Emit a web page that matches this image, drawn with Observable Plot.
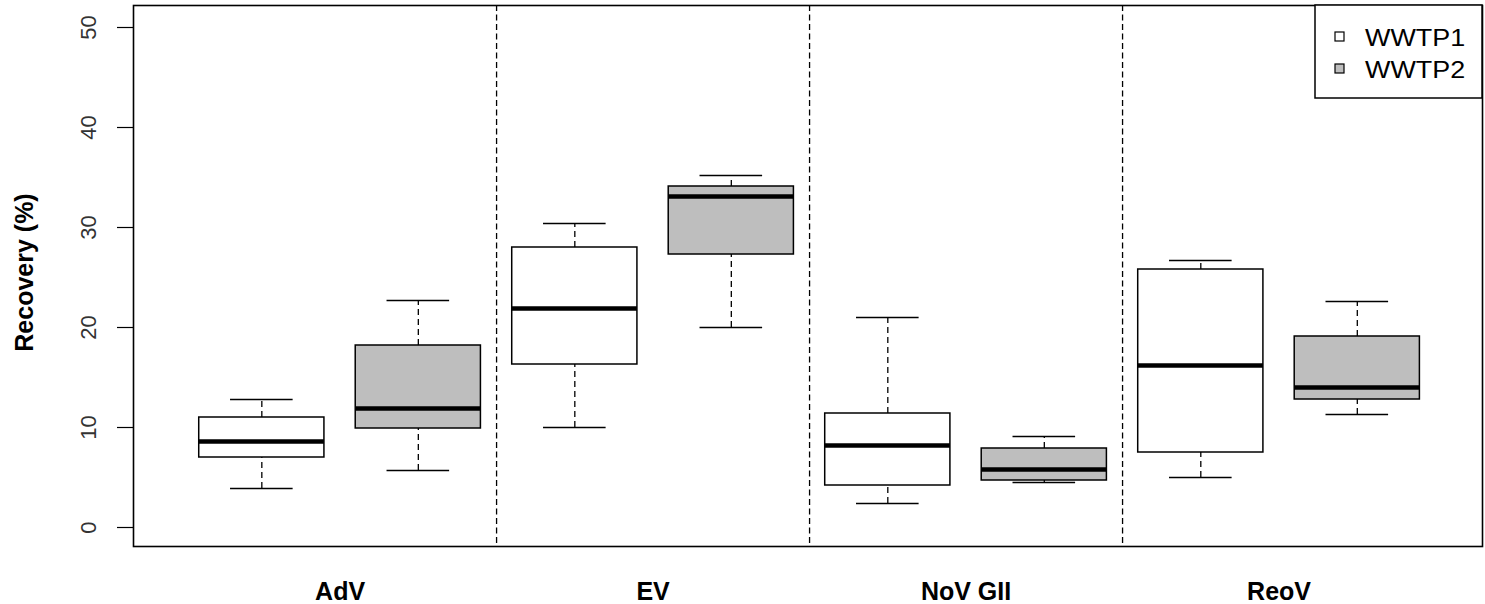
<!DOCTYPE html>
<html>
<head>
<meta charset="utf-8">
<script src="https://cdn.jsdelivr.net/npm/d3@7"></script>
<script src="https://cdn.jsdelivr.net/npm/@observablehq/plot@0.6"></script>
<style>
  html, body { margin: 0; padding: 0; background: #fff; }
  #chart svg { display: block; }
</style>
</head>
<body>
<div id="chart"></div>
<script>
// ---- data ----
const categories = ["AdV", "EV", "NoV GII", "ReoV"];
const plants = ["WWTP1", "WWTP2"];
const plantFills = ["#ffffff", "#bebebe"];
const yTicks = [0, 10, 20, 30, 40, 50];

const wwtp1Low    = [3.9, 10.0, 2.4, 5.0];
const wwtp1Q1     = [7.0, 16.3, 4.2, 7.5];
const wwtp1Median = [8.6, 21.9, 8.2, 16.2];
const wwtp1Q3     = [11.0, 28.0, 11.4, 25.8];
const wwtp1High   = [12.8, 30.4, 21.0, 26.7];

const wwtp2Low    = [5.7, 20.0, 4.5, 11.3];
const wwtp2Q1     = [9.9, 27.3, 4.7, 12.8];
const wwtp2Median = [11.9, 33.1, 5.8, 14.0];
const wwtp2Q3     = [18.2, 34.1, 7.9, 19.1];
const wwtp2High   = [22.7, 35.2, 9.1, 22.6];

// ---- table built from the arrays ----
const series = [
  {low: wwtp1Low, q1: wwtp1Q1, med: wwtp1Median, q3: wwtp1Q3, high: wwtp1High},
  {low: wwtp2Low, q1: wwtp2Q1, med: wwtp2Median, q3: wwtp2Q3, high: wwtp2High}
];
const rows = [];
categories.forEach((cat, i) => {
  plants.forEach((plant, j) => {
    const s = series[j];
    rows.push({cat, plant, pos: i * plants.length + j + 1,
      low: s.low[i], q1: s.q1[i], med: s.med[i], q3: s.q3[i], high: s.high[i]});
  });
});
const groupCenters = categories.map((c, i) => i * plants.length + (plants.length + 1) / 2);
const dividers = categories.slice(1).map((c, i) => (i + 1) * plants.length + 0.5);

const halfBox = 0.4, halfCap = 0.2;
const font = "'Liberation Sans', Arial, Helvetica, sans-serif";

const chart = Plot.plot({
  width: 1485,
  height: 604,
  marginLeft: 133,
  marginRight: 3,
  marginTop: 5,
  marginBottom: 58,
  style: {fontFamily: font, background: "#fff", color: "#000"},
  x: {type: "linear", domain: [0.18, 8.8]},
  y: {domain: [-1.9, 52.2]},
  color: {domain: plants, range: plantFills},
  marks: [
    Plot.ruleX(dividers, {stroke: "#000", strokeWidth: 1.3, strokeDasharray: "6,3.5"}),
    // whiskers
    Plot.ruleX(rows, {x: "pos", y1: "q3", y2: "high", stroke: "#000", strokeWidth: 1.3, strokeDasharray: "6,4"}),
    Plot.ruleX(rows, {x: "pos", y1: "low", y2: "q1", stroke: "#000", strokeWidth: 1.3, strokeDasharray: "6,4"}),
    // caps
    Plot.ruleY(rows, {y: "high", x1: d => d.pos - halfCap, x2: d => d.pos + halfCap, stroke: "#000", strokeWidth: 1.5}),
    Plot.ruleY(rows, {y: "low", x1: d => d.pos - halfCap, x2: d => d.pos + halfCap, stroke: "#000", strokeWidth: 1.5}),
    // boxes
    Plot.rect(rows, {x1: d => d.pos - halfBox, x2: d => d.pos + halfBox, y1: "q1", y2: "q3",
      fill: "plant", stroke: "#000", strokeWidth: 1.5}),
    // medians
    Plot.ruleY(rows, {y: "med", x1: d => d.pos - halfBox, x2: d => d.pos + halfBox, stroke: "#000", strokeWidth: 4.3}),
    Plot.frame({stroke: "#000", strokeWidth: 1.6}),
    // y ticks (marks only) and rotated tick labels
    Plot.axisY({ticks: yTicks, tickSize: 16, tickFormat: () => "", label: null, stroke: "#000", strokeWidth: 1.2}),
    Plot.text(yTicks, {y: d => d, text: d => String(d), frameAnchor: "left", rotate: -90,
      textAnchor: "middle", lineAnchor: "bottom", dx: -38, fontSize: 22, fill: "#333",
      ariaLabel: "y tick labels"}),
    Plot.axisX({ticks: groupCenters, tickFormat: d => categories[groupCenters.indexOf(d)],
      tickSize: 0, tickPadding: 36, fontSize: 25, fontWeight: "bold", label: null})
  ]
});

document.getElementById("chart").appendChild(chart);

const svg = d3.select(chart);

// the reference's rotated tick labels are slightly wider across
svg.selectAll('g[aria-label="y tick labels"] text').each(function() {
  const t = this.getAttribute("transform") || "";
  this.setAttribute("transform", t + " scale(1,1.1)");
});

// axis title
svg.append("text")
  .attr("transform", "translate(33,272.5) rotate(-90)")
  .attr("text-anchor", "middle")
  .attr("font-family", font)
  .attr("font-size", 25)
  .attr("font-weight", "bold")
  .attr("fill", "#000")
  .text("Recovery (%)");

// legend
const lg = svg.append("g").attr("text-anchor", "start");
lg.append("rect")
  .attr("x", 1315).attr("y", 5).attr("width", 167).attr("height", 93)
  .attr("fill", "#fff").attr("stroke", "#000").attr("stroke-width", 1.5);
plants.forEach((p, i) => {
  const cy = 36.5 + i * 32;
  lg.append("rect")
    .attr("x", 1335).attr("y", cy - 4.5).attr("width", 9).attr("height", 9)
    .attr("fill", plantFills[i]).attr("stroke", "#000").attr("stroke-width", 1.2);
  lg.append("text")
    .attr("text-anchor", "start")
    .attr("transform", `translate(1365,${cy + 9}) scale(1.17,1)`)
    .attr("font-family", font)
    .attr("font-size", 23)
    .attr("fill", "#000")
    .text(p);
});
</script>
</body>
</html>
